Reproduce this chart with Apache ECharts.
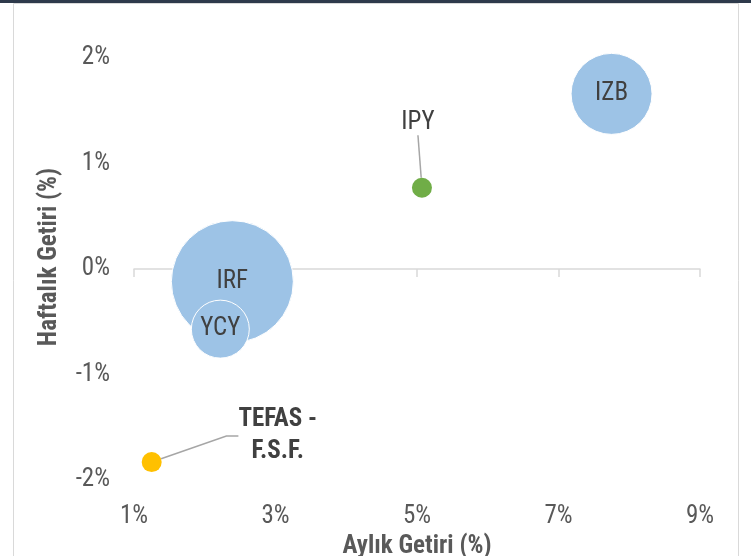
<!DOCTYPE html>
<html>
<head>
<meta charset="utf-8">
<script src="https://cdn.jsdelivr.net/npm/echarts@6/dist/echarts.min.js"></script>
<style>
html,body{margin:0;padding:0;background:#fff;}
#chart{width:751px;height:556px;}
</style>
</head>
<body>
<div id="chart"></div>
<script>
// Data
var fundNames = ['IRF', 'YCY', 'IZB'];
var monthlyReturn = [2.39, 2.22, 7.75];   // Aylık Getiri (%)
var weeklyReturn = [-0.12, -0.57, 1.66];  // Haftalık Getiri (%)
var fundSize = [37.2, 8.4, 16.4];         // bubble size

var ipyName = 'IPY';
var ipyPoint = [5.07, 0.77, 1.0];

var tefasName = 'TEFAS -\nF.S.F.';
var tefasPoint = [1.25, -1.83, 1.0];

var xTicks = [1, 3, 5, 7, 9];
var yTicks = [-2, -1, 0, 1, 2];

var FONT = 'Roboto, "Liberation Sans", sans-serif';
var STRETCH = 'condensed';

var chart = echarts.init(document.getElementById('chart'), null, {renderer: 'canvas'});

function sizeFn(v) { return 20 * Math.sqrt(v[2]); }

var blueData = fundNames.map(function (n, i) {
  return {name: n, value: [monthlyReturn[i], weeklyReturn[i], fundSize[i]]};
});

var option = {
  backgroundColor: '#ffffff',
  animation: false,
  grid: {left: 134, right: 51, top: 58, bottom: 76, containLabel: false, outerBoundsMode: 'none'},
  graphic: [
    {type: 'rect', shape: {x: 13.5, y: 3.5, width: 725, height: 600}, style: {fill: 'none', stroke: '#d9d9d9', lineWidth: 1}, silent: true},
    {type: 'rect', shape: {x: 0, y: 0, width: 751, height: 3}, style: {fill: '#2e3a4b'}, silent: true}
  ],
  xAxis: [
    {
      type: 'value', min: xTicks[0], max: xTicks[xTicks.length - 1], interval: 2,
      axisLine: {show: true, onZero: true, lineStyle: {color: '#d9d9d9', width: 1.5}},
      axisTick: {show: true, length: 8, lineStyle: {color: '#d9d9d9', width: 1.5}},
      axisLabel: {show: false},
      splitLine: {show: false}
    },
    {
      type: 'value', min: xTicks[0], max: xTicks[xTicks.length - 1], interval: 2,
      position: 'bottom',
      axisLine: {show: false, onZero: false},
      axisTick: {show: false},
      axisLabel: {show: true, margin: 24, formatter: '{value}%', color: '#595959', fontSize: 25, fontStyle: STRETCH, fontFamily: FONT},
      splitLine: {show: false},
      name: 'Aylık Getiri (%)', nameLocation: 'middle', nameGap: 50,
      nameTextStyle: {color: '#595959', fontSize: 25, fontWeight: 'bold', fontStyle: STRETCH, fontFamily: FONT}
    }
  ],
  yAxis: {
    type: 'value', min: yTicks[0], max: yTicks[yTicks.length - 1], interval: 1,
    axisLine: {show: false}, axisTick: {show: false},
    splitLine: {show: false},
    axisLabel: {margin: 24, formatter: '{value}%', color: '#595959', fontSize: 25, fontStyle: STRETCH, fontFamily: FONT},
    name: 'Haftalık Getiri (%)', nameLocation: 'middle', nameGap: 72,
    nameTextStyle: {color: '#595959', fontSize: 25, fontWeight: 'bold', fontStyle: STRETCH, fontFamily: FONT, padding: [0, 0, 0, 24]}
  },
  series: [
    {
      type: 'scatter',
      data: blueData,
      symbolSize: sizeFn,
      itemStyle: {color: '#9dc3e6', opacity: 1, borderColor: '#ffffff', borderWidth: 1},
      label: {show: true, position: 'inside', formatter: '{b}', color: '#404040', fontSize: 25, fontStyle: STRETCH, fontFamily: FONT}
    },
    {
      type: 'scatter',
      data: [{name: ipyName, value: ipyPoint}],
      symbolSize: sizeFn,
      itemStyle: {color: '#70ad47', opacity: 1},
      label: {show: true, position: 'inside', formatter: '{b}', color: '#404040', fontSize: 25, fontStyle: STRETCH, fontFamily: FONT},
      labelLayout: {dx: -4, dy: -65},
      labelLine: {show: true, lineStyle: {color: '#a6a6a6', width: 1.5}}
    },
    {
      type: 'scatter',
      data: [{name: tefasName, value: tefasPoint}],
      symbolSize: sizeFn,
      itemStyle: {color: '#ffc000', opacity: 1},
      label: {show: true, position: 'inside', formatter: '{b}', color: '#404040', fontSize: 25, fontWeight: 'bold', fontStyle: STRETCH, lineHeight: 32, align: 'center', fontFamily: FONT},
      labelLayout: {dx: 126, dy: -26},
      labelLine: {show: true, length2: 12, lineStyle: {color: '#a6a6a6', width: 1.5}}
    }
  ]
};
chart.setOption(option);
</script>
</body>
</html>
